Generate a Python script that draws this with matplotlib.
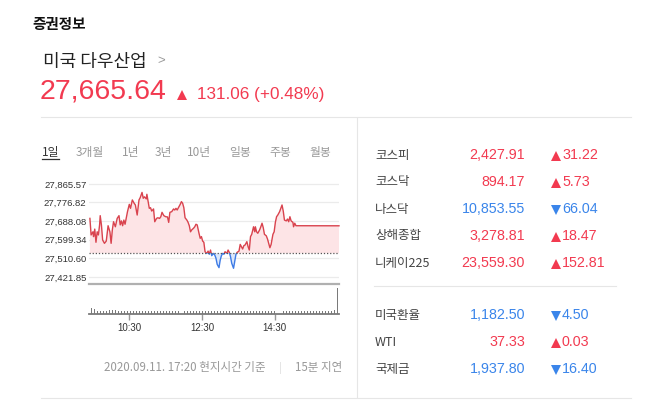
import matplotlib
matplotlib.use('Agg')
import matplotlib.pyplot as plt
import numpy as np
from matplotlib.lines import Line2D
from matplotlib.patches import Rectangle

# 폰트: 한글은 Noto Sans CJK KR, 숫자는 Liberation Sans
plt.rcParams['font.family'] = ['Noto Sans CJK KR', 'DejaVu Sans']
NUM_FONT = ['Liberation Sans', 'DejaVu Sans']

RED = '#f23a50'
BLUE = '#3a85ea'

# ---- 데이터 ----
index_name = '미국 다우산업'
index_close = 27665.64
index_change = 131.06
index_change_pct = 0.48

period_tabs = ['1일', '3개월', '1년', '3년', '10년', '일봉', '주봉', '월봉']

# 분 단위 시각(자정 기준)과 지수 값
minute_of_day = [565, 567, 570, 571, 573, 575, 577, 579, 581, 582,
                 584, 586, 589, 592, 595, 598, 600, 602, 604, 607,
                 610, 613, 615, 617, 619, 621, 623, 627, 630, 632,
                 635, 638, 640, 643, 646, 648, 651, 653, 655, 658,
                 659, 661, 663, 665, 667, 670, 672, 675, 677, 680,
                 682, 684, 687, 690, 693, 695, 697, 700, 703, 705,
                 707, 709, 712, 714, 716, 718, 720, 722, 725, 727,
                 729, 731, 733, 736, 738, 740, 742, 745, 747, 749,
                 751, 753, 755, 758, 760, 762, 764, 766, 769, 771,
                 773, 775, 778, 780, 782, 784, 786, 788, 791, 793,
                 795, 797, 799, 802, 804, 806, 808, 811, 813, 815,
                 817, 819, 821, 824, 826, 828, 830, 832, 835, 837,
                 838, 840, 842, 845, 847, 849, 851, 853, 856, 858,
                 860, 862, 864, 867, 869, 871, 873, 875, 878, 880,
                 882, 884, 886, 889, 891, 893, 895, 897, 900, 901,
                 903, 905, 976]
price = [27701, 27622, 27637, 27614, 27650, 27587, 27637, 27622, 27670, 27714,
         27670, 27598, 27582, 27593, 27666, 27637, 27582, 27646, 27685, 27661,
         27701, 27714, 27670, 27689, 27666, 27693, 27673, 27733, 27768, 27749,
         27789, 27773, 27765, 27717, 27789, 27800, 27825, 27797, 27804, 27794,
         27816, 27781, 27749, 27752, 27736, 27746, 27685, 27701, 27704, 27701,
         27709, 27730, 27714, 27709, 27708, 27682, 27730, 27733, 27746, 27741,
         27749, 27741, 27757, 27768, 27781, 27773, 27752, 27704, 27693, 27682,
         27666, 27637, 27646, 27654, 27661, 27673, 27670, 27630, 27606, 27614,
         27593, 27587, 27542, 27534, 27545, 27530, 27550, 27523, 27534, 27526,
         27511, 27482, 27466, 27502, 27523, 27534, 27530, 27542, 27534, 27550,
         27539, 27518, 27487, 27463, 27498, 27530, 27539, 27545, 27577, 27566,
         27555, 27571, 27574, 27590, 27566, 27550, 27614, 27625, 27661, 27637,
         27661, 27637, 27630, 27646, 27661, 27678, 27657, 27625, 27618, 27603,
         27582, 27561, 27577, 27625, 27637, 27682, 27709, 27717, 27733, 27749,
         27765, 27736, 27693, 27689, 27698, 27685, 27709, 27689, 27682, 27661,
         27678, 27666, 27665.64]

# 거래량 (상대값)
volume = [17, 14, 10, 9, 9, 9, 12, 12, 12, 10,
          9, 9, 9, 9, 8, 9, 9, 9, 8, 8,
          8, 8, 8, 8, 10, 8, 8, 8, 8, 8,
          0, 8, 8, 8, 8, 8, 8, 8, 8, 8,
          8, 10, 8, 8, 10, 8, 10, 8, 10, 8,
          10, 8, 10, 8, 8, 8, 8, 8, 8, 9,
          9, 8, 0, 0, 8, 10, 8, 8, 8, 8,
          8, 8, 8, 8, 10, 8, 8, 10, 10, 10,
          10, 12, 79]

y_ticks = [27421.85, 27510.60, 27599.34, 27688.08, 27776.82, 27865.57]
x_tick_labels = ['10:30', '12:30', '14:30']

footer = '2020.09.11. 17:20 현지시간 기준'
footer_delay = '15분 지연'

group1_names = ['코스피', '코스닥', '나스닥', '상해종합', '니케이225']
group1_values = [2427.91, 894.17, 10853.55, 3278.81, 23559.30]
group1_changes = [31.22, 5.73, -66.04, 18.47, 152.81]

group2_names = ['미국환율', 'WTI', '국제금']
group2_values = [1182.50, 37.33, 1937.80]
group2_changes = [-4.50, 0.03, -16.40]

# ---- 그림 ----
W, H = 662, 404
fig = plt.figure(figsize=(W / 100, H / 100), dpi=100)


def fx(x):
    return x / W


def fy(y):
    return 1 - y / H


def put(x, y, s, **kw):
    fig.text(fx(x), fy(y), s, **kw)


def hline(x0, x1, y, color='#e6e6e6', lw=0.8):
    fig.add_artist(Line2D([fx(x0), fx(x1)], [fy(y), fy(y)], color=color, lw=lw))


def vline(x, y0, y1, color='#e6e6e6', lw=0.8):
    fig.add_artist(Line2D([fx(x), fx(x)], [fy(y0), fy(y1)], color=color, lw=lw))


def arrow(x, y, up, color, size=7.6):
    # 등락 삼각형 (마커로 그림)
    fig.add_artist(Line2D([fx(x)], [fy(y)], marker='^' if up else 'v', ms=size,
                          color=color, mew=0, ls='none'))


# 머리글
put(32, 23.5, '증권정보', fontsize=10.5, fontweight='bold', color='#111', va='center')
put(43, 61.5, index_name, fontsize=13, color='#222', va='center')
put(157, 61, '>', fontsize=9.5, color='#999', va='center', family=NUM_FONT)
put(40, 92, f'{index_close:,.2f}', fontsize=20.5, color=RED, va='center', family=NUM_FONT)
arrow(182, 94.5, index_change > 0, RED)
put(197, 94, f'{index_change:.2f} (+{index_change_pct:.2f}%)', fontsize=12.3,
    color=RED, va='center', family=NUM_FONT)

hline(41, 631, 117.5)
hline(41, 631, 398)
vline(357, 118, 397)

# 기간 탭
tab_x = [41.5, 75.5, 121.5, 155, 186.5, 229, 269, 309]
for i, (tx, name) in enumerate(zip(tab_x, period_tabs)):
    put(tx, 152.5, name, fontsize=8.5, color='#333' if i == 0 else '#999', va='center')
hline(41.5, 58.5, 158.5, color='#333', lw=0.9)

# 가격 차트
prev_close = index_close - index_change
t = np.array(minute_of_day, dtype=float)
p = np.array(price, dtype=float)

ax = fig.add_axes([fx(89.3), fy(282), fx(339.3) - fx(89.3), (282 - 178) / H])
ax.set_xlim(564, 976.5)
ax.set_ylim(27397.5, 27893.7)
ax.fill_between(t, p, prev_close, where=p >= prev_close, interpolate=True,
                color='#fde4e6', lw=0)
ax.fill_between(t, p, prev_close, where=p <= prev_close, interpolate=True,
                color='#dce8fb', lw=0)
up_line, = ax.plot(t, p, color='#d9434e', lw=1.0)
dn_line, = ax.plot(t, p, color='#3d7be6', lw=1.0)
up_line.set_clip_path(Rectangle((564, prev_close), 500, 1000, transform=ax.transData))
dn_line.set_clip_path(Rectangle((564, prev_close - 1000), 500, 1000, transform=ax.transData))
ax.axhline(prev_close, color='#555', lw=0.9, ls=(0, (1, 1.5)))

ax.set_yticks(y_ticks)
ax.set_yticklabels([f'{v:,.2f}' for v in y_ticks], family=NUM_FONT)
ax.set_xticks([])
ax.tick_params(axis='y', length=0, pad=2, labelsize=6.8, labelcolor='#333')
ax.grid(axis='y', color='#ebebeb', lw=0.9)
ax.set_axisbelow(True)
for s in ax.spines.values():
    s.set_visible(False)
ax.patch.set_alpha(0)

# 거래량 차트
vax = fig.add_axes([fx(89.3), fy(314), fx(339.3) - fx(89.3), 30 / H])
vax.set_xlim(564, 976.5)
vax.set_ylim(0, 90)
vol_t = np.linspace(567, 973, len(volume))
vax.bar(vol_t, volume, width=1.7, color='#7a7a7a', lw=0)
for side in ['left', 'right']:
    vax.spines[side].set_visible(False)
vax.spines['top'].set_color('#b0b0b0')
vax.spines['top'].set_linewidth(1.6)
vax.spines['bottom'].set_color('#7a7a7a')
vax.spines['bottom'].set_linewidth(1.3)
vax.set_yticks([])
tick_minutes = [int(s[:2]) * 60 + int(s[3:]) for s in x_tick_labels]
vax.set_xticks(tick_minutes)
vax.set_xticklabels(x_tick_labels, family=NUM_FONT)
vax.tick_params(axis='x', length=4, width=1, color='#999', pad=2.5,
                labelsize=7, labelcolor='#333')
vax.patch.set_alpha(0)

# 하단 안내문
put(104, 368, footer, fontsize=8.3, color='#999', va='center')
put(279, 368, '|', fontsize=8, color='#ddd', va='center')
put(342, 368, footer_delay, fontsize=8.3, color='#999', va='center', ha='right')


# 오른쪽 시세 목록
def draw_rows(names, values, changes, ys):
    for name, val, chg, y in zip(names, values, changes, ys):
        c = RED if chg > 0 else BLUE
        put(375, y, name, fontsize=9, color='#444', va='center')
        put(525, y, f'{val:,.2f}', fontsize=10.3, color=c, va='center', ha='right',
            family=NUM_FONT)
        arrow(556.3, y + 0.5, chg > 0, c)
        put(562, y, f'{abs(chg):.2f}', fontsize=10.3, color=c, va='center',
            family=NUM_FONT)


draw_rows(group1_names, group1_values, group1_changes, [155, 182, 209, 236, 263])
hline(374, 616, 286)
draw_rows(group2_names, group2_values, group2_changes, [315, 342, 369])

fig.savefig('out.png', dpi=100)
